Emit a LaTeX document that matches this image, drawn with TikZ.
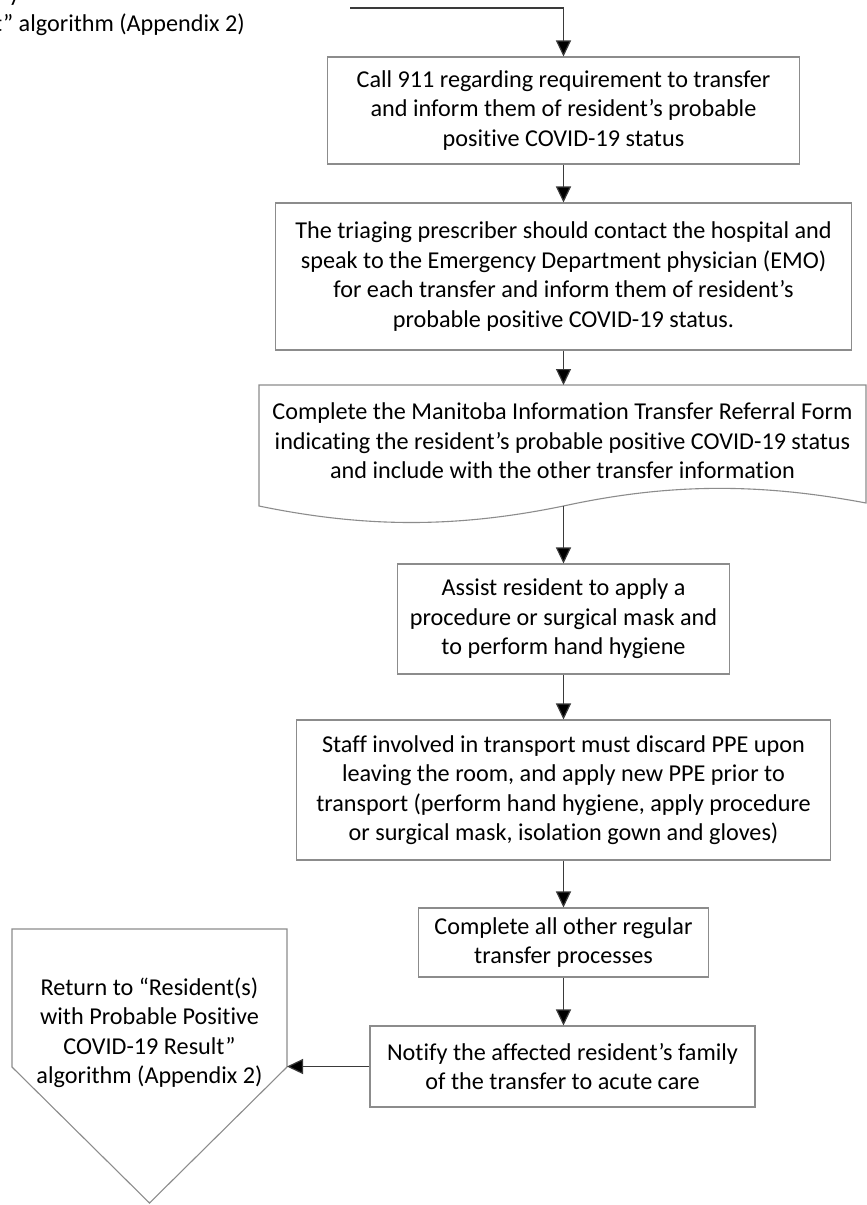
\documentclass[tikz,border=0pt]{standalone}
\usepackage{fontspec}
\setmainfont{Carlito}[Ligatures=NoCommon]
\usetikzlibrary{arrows.meta}
\definecolor{boxgray}{HTML}{8C8C8C}
\definecolor{conngray}{HTML}{3A3A3A}
\newcommand\bodyfont{\fontsize{24.2}{29.5}\selectfont}
\tikzset{
  box/.style={draw=boxgray, line width=1.1pt, fill=white, align=center,
    inner sep=0pt, font=\bodyfont, text=black},
  plaintext/.style={inner sep=0pt, font=\bodyfont, text=black},
  conn/.style={draw=conngray, line width=1.2pt,
    -{Triangle[width=15pt,length=16pt,fill=black]}},
  shapeline/.style={draw=boxgray, line width=1.1pt, fill=white}
}
\begin{document}
\begin{tikzpicture}[x=1pt,y=-1pt]
\useasboundingbox (0,0) rectangle (867,1205);
\clip (0,0) rectangle (867,1205);
\fill[white] (0,0) rectangle (867,1205);

% cropped text at top left
\node[plaintext, anchor=base east] (tlone) at (20,1.5) {y};
\node[plaintext, anchor=base east] (tltwo) at (245,31) {Result” algorithm (Appendix 2)};
\coordinate (start) at (350,8);

% boxes
\node[box, minimum width=472pt, minimum height=107pt] (b1) at (563.5,110.5)
  {Call 911 regarding requirement to transfer\\and inform them of resident’s probable\\positive COVID-19 status};

\node[box, minimum width=576pt, minimum height=147pt] (b2) at (563.5,276.5)
  {The triaging prescriber should contact the hospital and\\speak to the Emergency Department physician (EMO)\\for each transfer and inform them of resident’s\\probable positive COVID-19 status.};

% document shape
\draw[shapeline] (259,385) -- (866,385) -- (866,503)
  .. controls (760,483) and (669,483) .. (563.5,506)
  .. controls (457,528) and (365.5,528) .. (259,506) -- cycle;
\node[plaintext, align=center] (b3) at (562.5,441)
  {Complete the Manitoba Information Transfer Referral Form\\indicating the resident’s probable positive COVID-19 status\\and include with the other transfer information};
\coordinate (b3top) at (563.5,385);
\coordinate (b3out) at (563.5,506);

\node[box, minimum width=332pt, minimum height=110pt] (b4) at (563.5,619)
  {Assist resident to apply a\\procedure or surgical mask and\\to perform hand hygiene};

\node[box, minimum width=534pt, minimum height=140pt] (b5) at (563.5,790)
  {Staff involved in transport must discard PPE upon\\leaving the room, and apply new PPE prior to\\transport (perform hand hygiene, apply procedure\\or surgical mask, isolation gown and gloves)};

\node[box, minimum width=290pt, minimum height=69pt] (b6) at (563.5,942.5)
  {Complete all other regular\\transfer processes};

\node[box, minimum width=385pt, minimum height=81pt] (b7) at (562.5,1066.5)
  {Notify the affected resident’s family\\of the transfer to acute care};

% off-page connector (pentagon)
\draw[shapeline] (12,929) -- (287,929) -- (287,1067) -- (149.5,1203) -- (12,1067) -- cycle;
\node[plaintext, align=center] (ret) at (149.5,1032.5)
  {Return to “Resident(s)\\with Probable Positive\\COVID-19 Result”\\algorithm (Appendix 2)};
\coordinate (retin) at (287,1066.5);

% connectors
\draw[conn] (start) -| (b1.north);
\draw[conn] (b1.south) -- (b2.north);
\draw[conn] (b2.south) -- (b3top);
\draw[conn] (b3out) -- (b4.north);
\draw[conn] (b4.south) -- (b5.north);
\draw[conn] (b5.south) -- (b6.north);
\draw[conn] (b6.south) -- (b6.south |- b7.north);
\draw[conn] (b7.west) -- (retin);
\end{tikzpicture}
\end{document}
